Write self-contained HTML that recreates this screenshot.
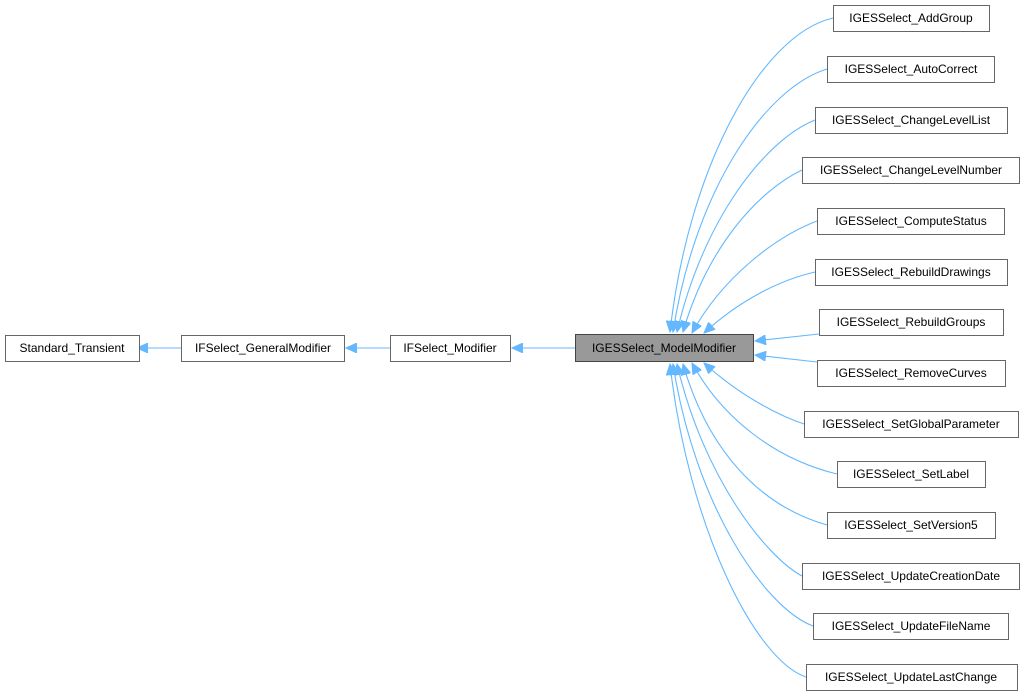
<!DOCTYPE html>
<html><head><meta charset="utf-8"><style>
html,body{margin:0;padding:0;background:#fff;}
svg{display:block;font-family:"Liberation Sans",Arial,sans-serif;}
</style></head><body>
<svg width="1026" height="696" viewBox="0 0 1026 696" xmlns="http://www.w3.org/2000/svg">
<defs>
<marker id="a" markerUnits="userSpaceOnUse" markerWidth="12" markerHeight="10" refX="11" refY="5" orient="auto">
<path d="M0,0 L11,5 L0,10 z" fill="#63b8ff" stroke="#63b8ff"/>
</marker>
</defs>
<g fill="none" stroke="#63b8ff" stroke-width="1.1">
<path d="M181,348 L137,348" marker-end="url(#a)"/>
<path d="M390,348 L346,348" marker-end="url(#a)"/>
<path d="M575,348 L512,348" marker-end="url(#a)"/>
<path d="M833,18 C760,35 688,170 670,332" marker-end="url(#a)"/>
<path d="M827,69 C765,88 695,190 673,332" marker-end="url(#a)"/>
<path d="M815,120 C765,140 703,220 677,332" marker-end="url(#a)"/>
<path d="M802,170 C760,190 708,245 683,332" marker-end="url(#a)"/>
<path d="M817,221 C775,237 722,278 692,333" marker-end="url(#a)"/>
<path d="M815,272 C780,280 740,300 704,333" marker-end="url(#a)"/>
<path d="M819,334 L755,341" marker-end="url(#a)"/>
<path d="M817,362 L755,355" marker-end="url(#a)"/>
<path d="M804,424 C780,416 740,396 704,363" marker-end="url(#a)"/>
<path d="M837,474 C775,459 722,418 692,363" marker-end="url(#a)"/>
<path d="M827,525 C760,506 708,451 683,364" marker-end="url(#a)"/>
<path d="M802,576 C765,556 703,476 677,364" marker-end="url(#a)"/>
<path d="M813,626 C765,608 695,506 673,364" marker-end="url(#a)"/>
<path d="M806,677 C755,660 688,526 670,364" marker-end="url(#a)"/>
</g>
<g stroke="#666" stroke-width="1" fill="#fff" font-size="12" text-anchor="middle">
<rect x="5.5" y="335.5" width="134" height="26"/>
<rect x="181.5" y="335.5" width="163" height="26"/>
<rect x="390.5" y="335.5" width="120" height="26"/>
<rect x="575.5" y="334.5" width="178" height="27" fill="#999" stroke="#444"/>
<rect x="833.5" y="5.5" width="156" height="26"/>
<rect x="827.5" y="56.5" width="167" height="26"/>
<rect x="815.5" y="107.5" width="192" height="26"/>
<rect x="802.5" y="157.5" width="217" height="26"/>
<rect x="817.5" y="208.5" width="187" height="26"/>
<rect x="815.5" y="259.5" width="192" height="26"/>
<rect x="819.5" y="309.5" width="184" height="26"/>
<rect x="817.5" y="360.5" width="188" height="26"/>
<rect x="804.5" y="411.5" width="214" height="26"/>
<rect x="837.5" y="461.5" width="148" height="26"/>
<rect x="827.5" y="512.5" width="168" height="26"/>
<rect x="802.5" y="563.5" width="217" height="26"/>
<rect x="813.5" y="613.5" width="195" height="26"/>
<rect x="806.5" y="664.5" width="211" height="26"/>
</g>
<g fill="#000" font-size="12" text-anchor="middle">
<text x="72" y="352">Standard_Transient</text>
<text x="263" y="352">IFSelect_GeneralModifier</text>
<text x="450" y="352">IFSelect_Modifier</text>
<text x="664" y="352">IGESSelect_ModelModifier</text>
<text x="911" y="22">IGESSelect_AddGroup</text>
<text x="911" y="73">IGESSelect_AutoCorrect</text>
<text x="911" y="124">IGESSelect_ChangeLevelList</text>
<text x="911" y="174">IGESSelect_ChangeLevelNumber</text>
<text x="911" y="225">IGESSelect_ComputeStatus</text>
<text x="911" y="276">IGESSelect_RebuildDrawings</text>
<text x="911" y="326">IGESSelect_RebuildGroups</text>
<text x="911" y="377">IGESSelect_RemoveCurves</text>
<text x="911" y="428">IGESSelect_SetGlobalParameter</text>
<text x="911" y="478">IGESSelect_SetLabel</text>
<text x="911" y="529">IGESSelect_SetVersion5</text>
<text x="911" y="580">IGESSelect_UpdateCreationDate</text>
<text x="911" y="630">IGESSelect_UpdateFileName</text>
<text x="911" y="681">IGESSelect_UpdateLastChange</text>
</g>
</svg>
</body></html>
